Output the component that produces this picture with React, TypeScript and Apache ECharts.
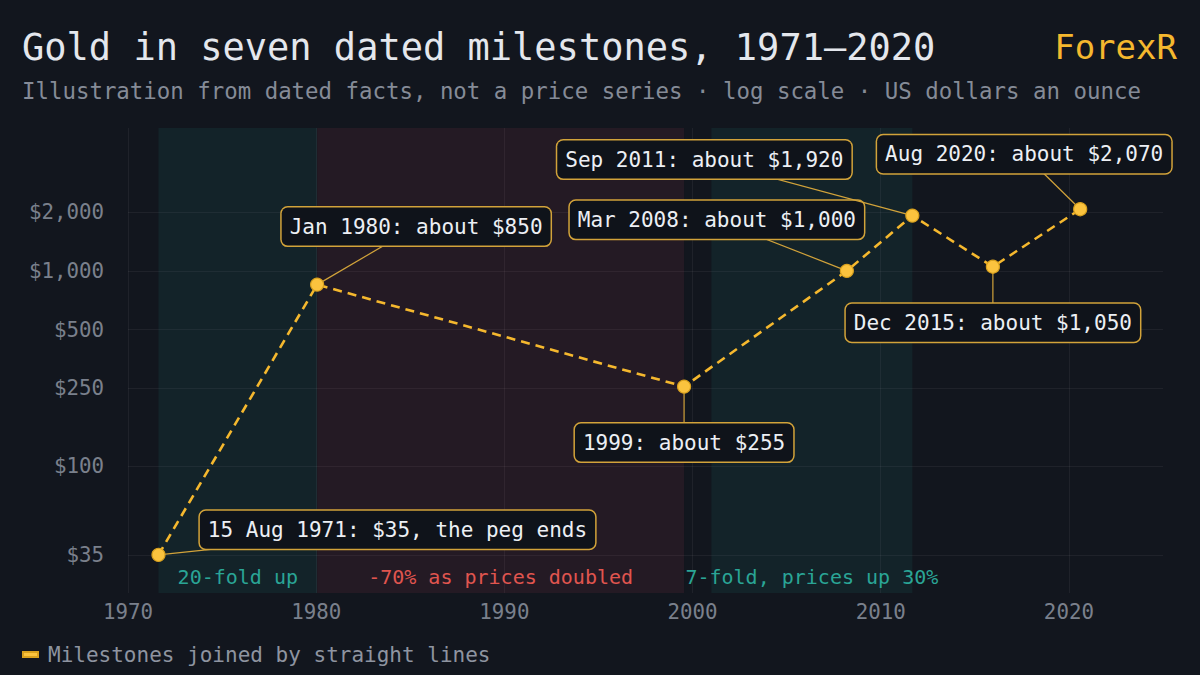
import { useEffect, useRef } from 'react'
import * as echarts from 'echarts'

const FONT = '"DejaVu Sans Mono", "Liberation Mono", monospace'

// milestone dates as decimal years, prices in US dollars an ounce
const years = [1971.62, 1980.05, 1999.55, 2008.2, 2011.68, 2015.96, 2020.6]
const prices = [35, 850, 255, 1000, 1920, 1050, 2070]
const notes = [
  '15 Aug 1971: $35, the peg ends',
  'Jan 1980: about $850',
  '1999: about $255',
  'Mar 2008: about $1,000',
  'Sep 2011: about $1,920',
  'Dec 2015: about $1,050',
  'Aug 2020: about $2,070',
]
// where each note box sits relative to its point, in px
const noteOffsets = [
  [239, -25],
  [99, -58],
  [0, 56],
  [-130, -51],
  [-208, -56],
  [0, 56],
  [-56, -55],
]

const priceTicks = [35, 100, 250, 500, 1000, 2000]
const yearTicks = [1970, 1980, 1990, 2000, 2010, 2020]

// shaded periods
const bandStarts = [1971.62, 1980.05, 2001]
const bandEnds = [1980.05, 1999.55, 2011.68]
const bandLabels = ['20-fold up', '-70% as prices doubled', '7-fold, prices up 30%']
const bandUp = [true, false, true]

const SERIES_NAME = 'Milestones joined by straight lines'

export default function App() {
  const chartRef = useRef<HTMLDivElement>(null)

  useEffect(() => {
    document.body.style.margin = '0'
    if (!chartRef.current) return
    const chart = echarts.init(chartRef.current, null, { renderer: 'svg' })

    // log scale done by hand: y is log10(price)
    const points = years.map((y, i) => [y, Math.log10(prices[i])])
    const logTicks = priceTicks.map((p) => Math.log10(p))

    const bands = bandStarts.map((s, i) => [
      {
        name: bandLabels[i],
        xAxis: s,
        itemStyle: { color: bandUp[i] ? 'rgba(38, 166, 154, 0.09)' : 'rgba(232, 72, 100, 0.085)' },
        label: { color: bandUp[i] ? '#2aa596' : '#e0554f' },
      },
      { xAxis: bandEnds[i] },
    ])

    const option: echarts.EChartsOption = {
      animation: false,
      backgroundColor: '#12161e',
      title: [
        {
          text: 'Gold in seven dated milestones, 1971–2020',
          subtext: 'Illustration from dated facts, not a price series · log scale · US dollars an ounce',
          left: 22,
          top: 29,
          padding: 0,
          itemGap: 14,
          textStyle: { fontFamily: FONT, fontSize: 37, fontWeight: 'normal', color: '#e4e7ed' },
          subtextStyle: { fontFamily: FONT, fontSize: 22.4, color: '#858b97' },
        },
        {
          text: 'ForexR',
          right: 23,
          top: 30,
          padding: 0,
          textStyle: { fontFamily: FONT, fontSize: 34, fontWeight: 500, color: '#f5b82e' },
        },
      ],
      legend: {
        data: [SERIES_NAME],
        left: 22,
        top: 644,
        padding: 0,
        icon: 'rect',
        itemWidth: 15,
        itemHeight: 5,
        itemGap: 10,
        textStyle: { fontFamily: FONT, fontSize: 21, color: '#8e94a0', padding: [0, 0, 0, 5] },
      },
      grid: { left: 128, right: 37, top: 128, bottom: 82 },
      xAxis: {
        type: 'value',
        min: 1970,
        max: 2025,
        interval: 10,
        axisLine: { show: false },
        axisTick: { show: false, customValues: yearTicks },
        axisLabel: {
          customValues: yearTicks,
          margin: 8,
          fontFamily: FONT,
          fontSize: 20.8,
          color: '#7a808c',
          formatter: (v: number) => String(Math.round(v)),
        },
        splitLine: { show: true, lineStyle: { color: 'rgba(255,255,255,0.055)', width: 1 } },
      },
      yAxis: {
        type: 'value',
        min: Math.log10(22.3),
        max: Math.log10(5400),
        axisLine: { show: false },
        axisTick: { show: false, customValues: logTicks },
        axisLabel: {
          customValues: logTicks,
          margin: 24,
          fontFamily: FONT,
          fontSize: 20.8,
          color: '#7a808c',
          formatter: (v: number) => '$' + Math.round(Math.pow(10, v)).toLocaleString('en-US'),
        },
        splitLine: { show: true, lineStyle: { color: 'rgba(255,255,255,0.055)', width: 1 } },
      },
      series: [
        {
          name: SERIES_NAME,
          type: 'line',
          z: 4,
          data: points,
          color: '#f5b82e',
          symbol: 'circle',
          symbolSize: 13,
          itemStyle: { color: '#fbc33e', borderColor: '#d9a11e', borderWidth: 1.2 },
          lineStyle: { color: '#f5b82e', width: 2.6, type: [9, 6] },
          markArea: {
            silent: true,
            label: {
              show: true,
              position: 'insideBottom',
              distance: 6,
              fontFamily: FONT,
              fontSize: 20,
            },
            data: bands as any,
          },
        },
        {
          // note boxes with a connector pointing at each milestone
          type: 'custom',
          z: 3,
          clip: false,
          silent: true,
          data: points,
          renderItem: (params: any, api: any) => {
            const i = params.dataIndex
            const pt = api.coord([api.value(0), api.value(1)])
            const cx = pt[0] + noteOffsets[i][0]
            const cy = pt[1] + noteOffsets[i][1]
            return {
              type: 'group',
              children: [
                {
                  type: 'line',
                  shape: { x1: pt[0], y1: pt[1], x2: cx, y2: cy },
                  style: { stroke: '#d2a33a', lineWidth: 1.2 },
                },
                {
                  type: 'text',
                  style: {
                    text: notes[i],
                    x: cx,
                    y: cy,
                    align: 'center',
                    verticalAlign: 'middle',
                    fill: '#eceff4',
                    font: `21px ${FONT}`,
                    backgroundColor: '#0f131a',
                    borderColor: '#d2a33a',
                    borderWidth: 1.5,
                    borderRadius: 6,
                    padding: [9, 8, 8, 8],
                  },
                },
              ],
            }
          },
        } as any,
      ],
    }

    chart.setOption(option)
    return () => {
      chart.dispose()
    }
  }, [])

  return (
    <div
      ref={chartRef}
      style={{ position: 'fixed', left: 0, top: 0, width: 1200, height: 675, background: '#12161e' }}
    />
  )
}
